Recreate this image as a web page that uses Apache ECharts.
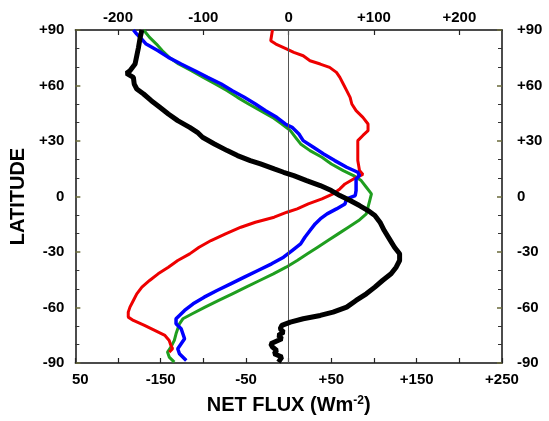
<!DOCTYPE html>
<html><head><meta charset="utf-8">
<script src="https://cdn.jsdelivr.net/npm/echarts@6/dist/echarts.min.js"></script>
<style>html,body{margin:0;padding:0;background:#fff}#c{width:549px;height:421px}</style>
</head><body><div id="c"></div>
<script>
// ---- data (net flux in W m-2 versus latitude) ----
const blackLat  = [90,86.0,80.6,76.1,71.6,68.0,66.6,64.4,60.8,58.1,55.4,51.8,48.2,44.6,41.0,37.4,34.7,32.0,28.4,24.8,22.1,19.4,17.6,14.9,13.1,11.3,8.6,5.9,3.2,0.5,-2.2,-4.9,-7.6,-10.3,-13.9,-18.4,-22.9,-27.4,-31.0,-34.6,-38.2,-41.8,-45.4,-49.0,-52.6,-56.2,-59.8,-62.5,-64.3,-66.1,-67.9,-69.7,-71.5,-73.3,-75.1,-76.9,-79.6,-81.4,-83.2,-85.0,-86.8,-89.5];
const blackFlux = [-172,-174,-176,-178,-180,-186,-190,-182,-181,-178,-170,-161,-151,-141,-130,-116,-107,-101,-87,-72,-60,-45,-33,-17,-6,6,21,37,50,60,72,83,93,101,107,112,118,124,130,130,126,120,110,101,91,79,68,52,37,17,2,-8,-10,-6,-12,-8,-21,-19,-14,-17,-8,-12];

const redLat  = [90,84.2,82.4,79.7,77.9,76.1,73.4,71.6,69.8,67.1,64.4,60.8,57.2,53.6,50.0,46.4,42.8,39.2,35.6,33.0,30.2,24.8,19.4,14.0,11.9,9.5,6.8,4.1,1.4,-1.3,-4.0,-6.7,-8.5,-11.2,-13.9,-16.6,-20.2,-23.8,-27.4,-31.0,-34.6,-38.2,-41.8,-45.4,-49.0,-52.6,-56.2,-59.8,-62.5,-65.2,-67.0,-69.7,-72.4,-75.1,-77.8,-80.5,-82.3,-84.1];
const redFlux = [-19,-21,-15,-2,6,17,25,37,48,56,60,64,68,72,74,79,87,93,93,87,81,81,81,83,87,76,66,60,52,39,23,10,-2,-17,-39,-56,-74,-91,-105,-116,-130,-141,-153,-163,-172,-178,-182,-186,-188,-188,-182,-169,-157,-145,-140,-138,-136,-140];

const blueLat  = [90,87.8,86.0,82.4,78.8,75.2,71.6,68.0,64.4,60.8,57.2,53.6,50.0,46.4,42.8,39.2,37.4,33.8,30.2,26.6,23.0,19.4,15.8,13.1,11.3,9.5,3.2,0.5,-1.3,-4.0,-6.7,-9.4,-12.1,-14.8,-18.4,-22.0,-25.6,-29.2,-32.8,-36.4,-40.0,-43.6,-47.2,-50.8,-54.4,-58.0,-61.6,-64.3,-66.1,-68.8,-71.5,-74.2,-76.9,-79.6,-82.3,-85.0,-88.6];
const blueFlux = [-182,-178,-174,-167,-153,-141,-126,-110,-95,-79,-66,-52,-39,-27,-14,-4,4,12,17,29,41,54,68,81,83,79,79,78,68,66,56,45,37,31,25,19,14,4,-6,-20,-36,-52,-68,-84,-99,-112,-122,-128,-132,-132,-126,-124,-122,-126,-130,-128,-120];

const greenLat  = [90,86.0,82.4,78.8,75.2,71.6,68.0,64.4,60.8,57.2,53.6,50.0,46.4,42.8,39.2,35.6,32.0,28.4,24.8,21.2,17.6,14.0,11.3,8.6,5.0,1.4,-2.2,-5.8,-9.4,-13.0,-16.6,-20.2,-23.8,-27.4,-31.0,-34.6,-38.2,-41.8,-45.4,-49.0,-52.6,-56.2,-59.8,-63.4,-66.1,-68.8,-71.5,-74.2,-77.8,-81.4,-84.1,-86.8,-89.5];
const greenFlux = [-170,-163,-155,-148,-140,-129,-114,-100,-86,-72,-60,-47,-33,-19,-8,2,8,14,25,39,50,64,76,85,91,97,95,93,91,82,70,58,46,34,22,10,-3,-18,-34,-50,-66,-82,-98,-113,-124,-128,-130,-132,-134,-138,-142,-140,-134];

// ---- axis tick / label values ----
const xTickVals        = [-250,-200,-150,-100,-50,0,50,100,150,200,250];
const bottomLabelVals  = [-250,-150,-50,50,150,250];
const topLabelVals     = [-200,-100,0,100,200];
const zeroLine         = [0];

function pairs(xs, ys){ return xs.map((x,i)=>[x, ys[i]]); }
function signed(v){ return v > 0 ? '+' + v : String(v); }

const FONT = "'Liberation Sans', Arial, Helvetica, sans-serif";
const axisLineStyle = {color:'#111', width:1.5};
const labelStyle = {color:'#000', fontWeight:'bold', fontSize:15, fontFamily:FONT};

function yAxis(pos, margin){
  return {
    type:'value', position:pos, min:-90, max:90, interval:30,
    axisLine:{show:true, onZero:false, lineStyle:axisLineStyle},
    axisTick:{show:true, inside:true, length:5, lineStyle:{color:'#6b6b3b', width:1.5}},
    minorTick:{show:true, splitNumber:3, length:4, lineStyle:{color:'#333', width:1}},
    splitLine:{show:false},
    axisLabel:Object.assign({margin:margin, formatter:signed}, labelStyle)
  };
}

const chart = echarts.init(document.getElementById('c'), null, {renderer:'canvas'});
chart.setOption({
  animation:false,
  backgroundColor:'#fff',
  grid:{left:73, right:47, top:30, bottom:58, containLabel:false},
  xAxis:[
    {
      type:'value', position:'bottom', min:-250, max:250, interval:50,
      axisLine:{show:true, onZero:false, lineStyle:axisLineStyle},
      axisTick:{show:true, inside:true, length:5, customValues:xTickVals, lineStyle:{color:'#222', width:1.2}},
      splitLine:{show:false},
      axisLabel:Object.assign({margin:9, customValues:bottomLabelVals,
        formatter:v => v === -250 ? '{c|50}' : signed(v),
        rich:{c:{fontWeight:'bold', fontSize:15, fontFamily:FONT, color:'#000', padding:[0,0,0,10]}}}, labelStyle),
      name:'NET FLUX (Wm{s|-2})', nameLocation:'middle', nameGap:32,
      nameTextStyle:{color:'#000', fontWeight:'bold', fontSize:20, fontFamily:FONT,
        rich:{s:{fontSize:12, fontWeight:'bold', fontFamily:FONT, color:'#000', verticalAlign:'top'}}}
    },
    {
      type:'value', position:'top', min:-250, max:250, interval:50,
      axisLine:{show:true, onZero:false, lineStyle:axisLineStyle},
      axisTick:{show:true, inside:true, length:5, customValues:topLabelVals, lineStyle:{color:'#222', width:1.2}},
      splitLine:{show:false},
      axisLabel:Object.assign({margin:5, customValues:topLabelVals, formatter:signed}, labelStyle)
    }
  ],
  yAxis:[
    Object.assign(yAxis('left', 11), {
      name:'LATITUDE', nameLocation:'middle', nameGap:44,
      nameTextStyle:{color:'#000', fontWeight:'bold', fontSize:20, fontFamily:FONT}
    }),
    yAxis('right', 15)
  ],
  series:[
    {type:'line', name:'green', data:pairs(greenFlux, greenLat), showSymbol:false, symbol:'none',
     lineStyle:{color:'#1f9e1f', width:3}, z:2,
     markLine:{silent:true, symbol:['none','none'], label:{show:false},
       lineStyle:{color:'#555', width:1, type:'solid'},
       data:zeroLine.map(v=>({xAxis:v}))}},
    {type:'line', name:'red', data:pairs(redFlux, redLat), showSymbol:false, symbol:'none',
     lineStyle:{color:'#ee0000', width:3}, z:3},
    {type:'line', name:'blue', data:pairs(blueFlux, blueLat), showSymbol:false, symbol:'none',
     lineStyle:{color:'#0000ff', width:3.5}, z:4},
    {type:'line', name:'black', data:pairs(blackFlux, blackLat), showSymbol:false, symbol:'none',
     lineStyle:{color:'#000', width:5}, z:5}
  ]
});
</script>
</body></html>
